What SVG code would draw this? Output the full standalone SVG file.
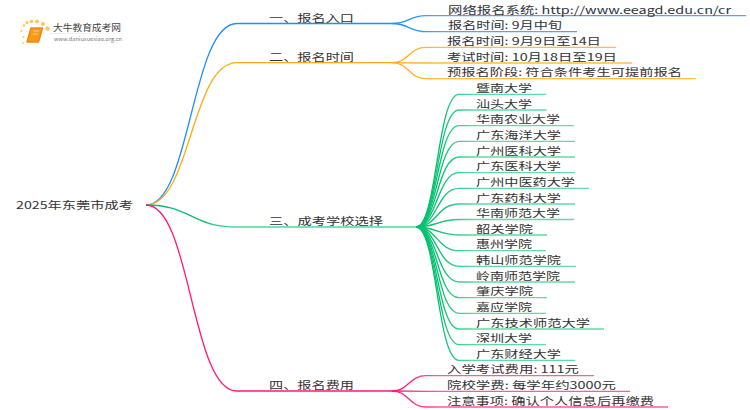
<svg xmlns="http://www.w3.org/2000/svg" width="750" height="410" viewBox="0 0 750 410">
<defs>
<linearGradient id="gB" gradientUnits="userSpaceOnUse" x1="405" x2="440" y1="0" y2="0"><stop offset="0" stop-color="#1e90ff"/><stop offset="1" stop-color="#4aa6ff"/></linearGradient>
<linearGradient id="gO" gradientUnits="userSpaceOnUse" x1="405" x2="440" y1="0" y2="0"><stop offset="0" stop-color="#ffa914"/><stop offset="1" stop-color="#ffbc4a"/></linearGradient>
<linearGradient id="gG" gradientUnits="userSpaceOnUse" x1="440" x2="475" y1="0" y2="0"><stop offset="0" stop-color="#05c070"/><stop offset="1" stop-color="#5fdca6"/></linearGradient>
<linearGradient id="gP" gradientUnits="userSpaceOnUse" x1="405" x2="440" y1="0" y2="0"><stop offset="0" stop-color="#ff1a7a"/><stop offset="1" stop-color="#ff5a9e"/></linearGradient>
<linearGradient id="gR" gradientUnits="userSpaceOnUse" x1="200" x2="240" y1="0" y2="0"><stop offset="0" stop-color="#05c070"/><stop offset="1" stop-color="#4fd79a"/></linearGradient>
<linearGradient id="gL" gradientUnits="userSpaceOnUse" x1="50" x2="134" y1="0" y2="0"><stop offset="0" stop-color="#ddd"/><stop offset="1" stop-color="#fff"/></linearGradient>
</defs>
<style>
text{font-family:"Noto Sans CJK SC","Liberation Sans",sans-serif;font-size:10.5px;fill:#333}
path{fill:none;stroke-width:1.3}
.b{stroke:#1e90ff}.o{stroke:#ffa914}.p{stroke:#ff1a7a}
.bl{stroke:url(#gB)}.ol{stroke:url(#gO)}.gl{stroke:url(#gG)}.pl{stroke:url(#gP)}.gr{stroke:url(#gR)}
.logo-a{font-size:9px;fill:#444}.logo-b{font-size:5.500px;fill:#777}
</style>
<rect width="750" height="410" fill="#fff"/>
<g id="connectors">
<path class="b" d="M146 205C191 205 191 23.5 237 23.5H392"/>
<path class="o" d="M146 205C191 205 191 62.700 237 62.700H392"/>
<path class="gr" d="M146 205C191 205 191 227 237 227H416"/>
<path class="p" d="M146 205C191 205 191 391 237 391H392"/>
<path class="bl" d="M392 23.5C409 23.5 409 15.700 426 15.700H746"/>
<path class="bl" d="M392 23.5C409 23.5 409 31.700 426 31.700H577"/>
<path class="ol" d="M392 62.700C409 62.700 409 47.300 426 47.300H616"/>
<path class="ol" d="M392 62.700C409 62.700 409 63 426 63H632"/>
<path class="ol" d="M392 62.700C409 62.700 409 78.700 426 78.700H696"/>
<path class="gl" d="M416 227C437 227 437 94.300 459 94.300H546"/>
<path class="gl" d="M416 227C437 227 437 110 459 110H546.500"/>
<path class="gl" d="M416 227C437 227 437 125.600 459 125.600H574"/>
<path class="gl" d="M416 227C437 227 437 141.300 459 141.300H575"/>
<path class="gl" d="M416 227C437 227 437 157 459 157H575"/>
<path class="gl" d="M416 227C437 227 437 172.600 459 172.600H575"/>
<path class="gl" d="M416 227C437 227 437 188.300 459 188.300H589"/>
<path class="gl" d="M416 227C437 227 437 204 459 204H575"/>
<path class="gl" d="M416 227C437 227 437 219.500 459 219.500H574"/>
<path class="gl" d="M416 227C437 227 437 235 459 235H547"/>
<path class="gl" d="M416 227C437 227 437 250.700 459 250.700H546"/>
<path class="gl" d="M416 227C437 227 437 266.300 459 266.300H576"/>
<path class="gl" d="M416 227C437 227 437 282 459 282H575"/>
<path class="gl" d="M416 227C437 227 437 297.700 459 297.700H547"/>
<path class="gl" d="M416 227C437 227 437 313.300 459 313.300H546"/>
<path class="gl" d="M416 227C437 227 437 329 459 329H604"/>
<path class="gl" d="M416 227C437 227 437 344.700 459 344.700H546"/>
<path class="gl" d="M416 227C437 227 437 360.300 459 360.300H575"/>
<path class="pl" d="M392 391C409 391 409 375.700 426 375.700H594"/>
<path class="pl" d="M392 391C409 391 409 391.300 426 391.300H630"/>
<path class="pl" d="M392 391C409 391 409 407 426 407H668"/>
</g>
<g id="logo">
<g fill="#fcc94f"><circle cx="23.500" cy="37" r="1"/><circle cx="21.500" cy="31" r="1.100"/><circle cx="24" cy="25.500" r="1.300"/><circle cx="27" cy="22.500" r="1.500"/><circle cx="31.500" cy="21.500" r="1.800"/><circle cx="37" cy="21.500" r="2"/><circle cx="43" cy="24" r="2"/><circle cx="47.500" cy="28.500" r="2.200"/><circle cx="23" cy="43" r="0.900"/></g>
<path d="M31 28H42.500L38.500 42H27Z" style="fill:#f79a1c;stroke:#ee8a10;stroke-width:1.500;stroke-linejoin:round"/>
<path d="M33.500 31H39M32.800 34H38" style="stroke:#ffd27a;stroke-width:1"/>
<path d="M50 33.500H134" style="stroke:url(#gL);stroke-width:0.600"/>
<text class="logo-a" x="53" y="30.500" textLength="68" lengthAdjust="spacingAndGlyphs">大牛教育成考网</text>
<text class="logo-b" x="54" y="40.500" textLength="68" lengthAdjust="spacingAndGlyphs">www.daniuxuexiao.org.cn</text>
</g>
<g id="root"><text x="16" y="208.700" textLength="117" lengthAdjust="spacingAndGlyphs">2025年东莞市成考</text></g>
<g id="n1"><text x="269" y="21.500" textLength="85" lengthAdjust="spacingAndGlyphs">一、报名入口</text></g>
<g id="n2"><text x="269" y="60.500" textLength="85" lengthAdjust="spacingAndGlyphs">二、报名时间</text></g>
<g id="n3"><text x="269" y="225" textLength="114" lengthAdjust="spacingAndGlyphs">三、成考学校选择</text></g>
<g id="n4"><text x="269" y="389" textLength="85" lengthAdjust="spacingAndGlyphs">四、报名费用</text></g>
<g id="n1-1"><text x="448" y="13.500" textLength="283" lengthAdjust="spacingAndGlyphs">网络报名系统: http://www.eeagd.edu.cn/cr</text></g>
<g id="n1-2"><text x="448" y="29" textLength="114" lengthAdjust="spacingAndGlyphs">报名时间: 9月中旬</text></g>
<g id="n2-1"><text x="447" y="45" textLength="154" lengthAdjust="spacingAndGlyphs">报名时间: 9月9日至14日</text></g>
<g id="n2-2"><text x="447" y="60.700" textLength="170" lengthAdjust="spacingAndGlyphs">考试时间: 10月18日至19日</text></g>
<g id="n2-3"><text x="447" y="76.400" textLength="235" lengthAdjust="spacingAndGlyphs">预报名阶段: 符合条件考生可提前报名</text></g>
<g id="s1"><text x="476" y="92" textLength="56" lengthAdjust="spacingAndGlyphs">暨南大学</text></g>
<g id="s2"><text x="476" y="107.700" textLength="56" lengthAdjust="spacingAndGlyphs">汕头大学</text></g>
<g id="s3"><text x="476" y="123.300" textLength="84" lengthAdjust="spacingAndGlyphs">华南农业大学</text></g>
<g id="s4"><text x="476" y="139" textLength="85" lengthAdjust="spacingAndGlyphs">广东海洋大学</text></g>
<g id="s5"><text x="476" y="154.700" textLength="85" lengthAdjust="spacingAndGlyphs">广州医科大学</text></g>
<g id="s6"><text x="476" y="170.300" textLength="85" lengthAdjust="spacingAndGlyphs">广东医科大学</text></g>
<g id="s7"><text x="476" y="186" textLength="99" lengthAdjust="spacingAndGlyphs">广州中医药大学</text></g>
<g id="s8"><text x="476" y="201.700" textLength="85" lengthAdjust="spacingAndGlyphs">广东药科大学</text></g>
<g id="s9"><text x="476" y="217.200" textLength="84" lengthAdjust="spacingAndGlyphs">华南师范大学</text></g>
<g id="s10"><text x="476" y="232.700" textLength="57" lengthAdjust="spacingAndGlyphs">韶关学院</text></g>
<g id="s11"><text x="476" y="248.400" textLength="56" lengthAdjust="spacingAndGlyphs">惠州学院</text></g>
<g id="s12"><text x="476" y="264" textLength="85" lengthAdjust="spacingAndGlyphs">韩山师范学院</text></g>
<g id="s13"><text x="476" y="279.700" textLength="84" lengthAdjust="spacingAndGlyphs">岭南师范学院</text></g>
<g id="s14"><text x="476" y="295.400" textLength="57" lengthAdjust="spacingAndGlyphs">肇庆学院</text></g>
<g id="s15"><text x="476" y="311" textLength="56" lengthAdjust="spacingAndGlyphs">嘉应学院</text></g>
<g id="s16"><text x="476" y="326.700" textLength="114" lengthAdjust="spacingAndGlyphs">广东技术师范大学</text></g>
<g id="s17"><text x="476" y="342.400" textLength="56" lengthAdjust="spacingAndGlyphs">深圳大学</text></g>
<g id="s18"><text x="476" y="358" textLength="85" lengthAdjust="spacingAndGlyphs">广东财经大学</text></g>
<g id="n4-1"><text x="447" y="373.400" textLength="132" lengthAdjust="spacingAndGlyphs">入学考试费用: 111元</text></g>
<g id="n4-2"><text x="447" y="389" textLength="169" lengthAdjust="spacingAndGlyphs">院校学费: 每学年约3000元</text></g>
<g id="n4-3"><text x="447" y="404.700" textLength="207" lengthAdjust="spacingAndGlyphs">注意事项: 确认个人信息后再缴费</text></g>
</svg>
